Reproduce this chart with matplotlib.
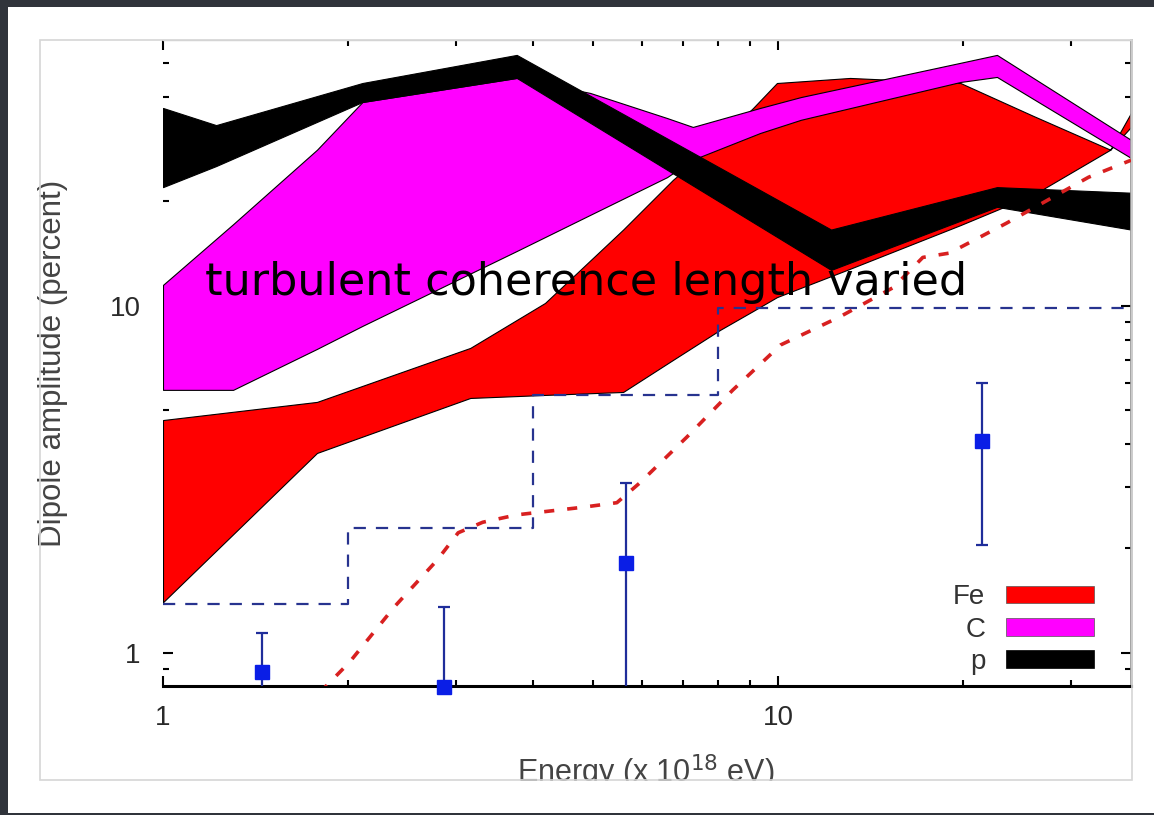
import matplotlib
matplotlib.use('Agg')
import matplotlib.pyplot as plt
from matplotlib.patches import Patch, Rectangle
from matplotlib.ticker import LogLocator, NullFormatter, FixedLocator

plt.rcParams['font.family'] = ['Liberation Sans', 'DejaVu Sans']

# Fe band (min / max over coherence lengths)
fe_energy = [1.0, 1.78, 3.16, 4.18, 5.60, 6.75, 8.05, 9.11, 9.96, 13.1, 19.8, 26.0, 34.7, 37.5]
fe_low = [1.40, 3.77, 5.43, 5.54, 5.65, 6.99, 8.53, 9.67, 10.6, 12.8, 17.1, 20.9, 28.2, 32.8]
fe_high = [4.69, 5.29, 7.57, 10.2, 16.6, 23.1, 30.1, 37.2, 43.9, 45.4, 43.9, 35.3, 28.2, 36.0]

# C band
c_energy = [1.0, 1.30, 1.78, 2.11, 3.76, 4.95, 6.60, 7.27, 9.35, 10.9, 19.8, 22.7, 37.5]
c_low = [5.73, 5.73, 7.52, 8.76, 14.4, 18.3, 23.5, 26.4, 31.5, 34.4, 44.2, 45.7, 26.7]
c_high = [11.5, 17.2, 28.2, 38.7, 45.4, 41.1, 34.8, 32.8, 37.2, 40.0, 50.2, 52.9, 30.1]

# proton band
p_energy = [1.0, 1.22, 2.11, 3.76, 12.2, 22.7, 37.5]
p_low = [22.0, 25.3, 38.7, 45.4, 12.7, 19.3, 16.6]
p_high = [37.2, 33.2, 43.9, 52.9, 16.6, 22.0, 21.2]

# upper limits per energy bin
limit_edges = [1, 2, 4, 8, 37.5]
limit_values = [1.38, 2.29, 5.53, 9.85]

# measured amplitudes with errors
meas_energy = [1.45, 2.86, 5.66, 21.5]
meas_amp = [0.88, 0.80, 1.82, 4.09]
meas_low = [0.5, 0.5, 0.5, 2.05]
meas_high = [1.14, 1.36, 3.09, 6.0]

# expected dipole curve
curve_energy = [1.80, 2.01, 2.38, 2.79, 3.02, 3.31, 3.76, 4.82, 5.47, 5.96, 7.11, 8.44,
                10.1, 12.6, 15.4, 17.2, 19.0, 23.5, 32.0, 37.5]
curve_amp = [0.77, 0.94, 1.36, 1.85, 2.22, 2.38, 2.50, 2.63, 2.71, 3.09, 4.19, 5.72,
             7.72, 9.3, 11.3, 13.8, 14.2, 17.3, 23.5, 26.3]

W, H = 1154, 815
fig = plt.figure(figsize=(W / 100, H / 100), dpi=100)
fig.patch.set_facecolor('#30343b')
fig.patches.append(Rectangle((8 / W, 1 - 813 / H), (W - 8) / W, 806 / H,
                             transform=fig.transFigure, facecolor='white',
                             edgecolor='none', zorder=-10))

ax = fig.add_axes([163 / W, 1 - 686 / H, 968 / W, 646 / H])
ax.set_xscale('log')
ax.set_yscale('log')
ax.set_xlim(1, 37.5)
ax.set_ylim(0.803, 58.4)
ax.set_axisbelow(True)

ax.fill_between(fe_energy, fe_low, fe_high, facecolor='#ff0000', edgecolor='black', lw=0.8, zorder=1)
ax.fill_between(c_energy, c_low, c_high, facecolor='#ff00ff', edgecolor='black', lw=0.8, zorder=1.1)
ax.fill_between(p_energy, p_low, p_high, facecolor='black', edgecolor='black', lw=0.8, zorder=1.2)

ax.step(limit_edges, limit_values + [limit_values[-1]], where='post', color='#27338f',
        lw=1.6, dashes=(5.5, 4.5), zorder=3)

ax.plot(curve_energy, curve_amp, color='#d82020', lw=2.6, dashes=(2.8, 3.6), zorder=3)

yerr = [[a - l for a, l in zip(meas_amp, meas_low)],
        [h - a for a, h in zip(meas_amp, meas_high)]]
ax.errorbar(meas_energy, meas_amp, yerr=yerr, fmt='none', ecolor='#1f2d9a',
            elinewidth=1.6, capsize=4.3, capthick=1.6, zorder=4)
ax.plot(meas_energy, meas_amp, 's', color='#0a1ee6', ms=9.5, clip_on=False, zorder=5)

# axes styling
ax.spines['left'].set_visible(False)
ax.spines['top'].set_color('#cfcfcf')
ax.spines['top'].set_linewidth(1)
ax.spines['right'].set_color('#9a9a9a')
ax.spines['right'].set_linewidth(2)
ax.spines['bottom'].set_color('black')
ax.spines['bottom'].set_linewidth(2.2)

ax.xaxis.set_major_locator(FixedLocator([1, 10]))
ax.xaxis.set_minor_locator(LogLocator(base=10, subs=range(2, 10), numticks=20))
ax.xaxis.set_minor_formatter(NullFormatter())
ax.yaxis.set_major_locator(FixedLocator([1, 10]))
ax.yaxis.set_minor_locator(LogLocator(base=10, subs=range(2, 10), numticks=20))
ax.yaxis.set_minor_formatter(NullFormatter())
ax.set_xticklabels(['1', '10'])
ax.set_yticklabels(['1', '10'])

ax.tick_params(which='both', direction='in', top=True, right=True, color='black', width=1.5)
ax.tick_params(which='major', length=7)
ax.tick_params(which='minor', length=4)
ax.tick_params(axis='x', labelsize=20, labelcolor='#2a2a2a', pad=14)
ax.tick_params(axis='y', labelsize=20, labelcolor='#2a2a2a', pad=16)

ax.set_ylabel('Dipole amplitude (percent)', fontsize=22.5, color='#444444')
ax.yaxis.set_label_coords(-0.098, 0.5)
ax.set_xlabel('Energy (x 10$^{18}$ eV)', fontsize=22, color='#444444')
ax.xaxis.label.set_va('baseline')
ax.xaxis.set_label_coords(0.499, -0.1486)

ax.text(0.0434, 0.605, 'turbulent coherence length varied', transform=ax.transAxes,
        fontsize=32, family='DejaVu Sans', color='black', va='baseline', zorder=10)

handles = [Patch(facecolor='#ff0000', edgecolor='#555555', lw=0.5, label='Fe'),
           Patch(facecolor='#ff00ff', edgecolor='#555555', lw=0.5, label='C'),
           Patch(facecolor='black', edgecolor='black', lw=0.5, label='p')]
leg = ax.legend(handles=handles, loc='lower right', bbox_to_anchor=(0.9618, 0.017),
                frameon=False, markerfirst=False, fontsize=20, handlelength=3.17,
                handleheight=0.61, handletextpad=0.75, labelspacing=0.23,
                borderpad=0, borderaxespad=0)
for t in leg.get_texts():
    t.set_color('#333333')

# picture frame; the strip below it hides the lower part of the axis title
fig.patches.append(Rectangle((0, 1 - 812 / H), 1, 31 / H, transform=fig.transFigure,
                             facecolor='white', edgecolor='none', zorder=5))
fig.patches.append(Rectangle((40 / W, 1 - 780 / H), 1092 / W, 740 / H,
                             transform=fig.transFigure, fill=False,
                             edgecolor='#d6d6d6', lw=1.2, zorder=6))
fig.patches.append(Rectangle((0, 1 - 7 / H), 1, 7 / H, transform=fig.transFigure,
                             facecolor='#30343b', edgecolor='none', zorder=6))
fig.patches.append(Rectangle((0, 0), 8 / W, 1, transform=fig.transFigure,
                             facecolor='#30343b', edgecolor='none', zorder=6))

fig.savefig('out.png', dpi=100, facecolor=fig.get_facecolor())
